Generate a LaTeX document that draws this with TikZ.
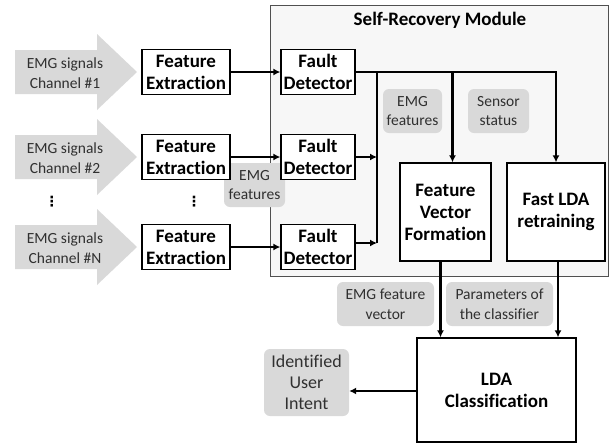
\documentclass[tikz,border=0pt]{standalone}
\usepackage{fontspec}
\setmainfont[Ligatures=NoCommon]{Carlito}
\newfontfamily\dotfont{DejaVu Sans}
\usetikzlibrary{arrows.meta}
\definecolor{tagfill}{HTML}{D9D9D9}
\definecolor{tagtext}{HTML}{303030}
\definecolor{modfill}{HTML}{F7F7F7}
\definecolor{modline}{HTML}{505050}
\newcommand{\bigtxt}{\fontsize{19}{22}\selectfont\bfseries}
\newcommand{\smalltxt}{\fontsize{15.5}{19.5}\selectfont}
\tikzset{
  blk/.style={draw, line width=1.3pt, fill=white, align=center, font=\bigtxt, inner sep=1pt},
  tag/.style={fill=tagfill, rounded corners=6pt, align=center, font=\smalltxt, text=tagtext, inner sep=0pt},
  wire/.style={line width=2.4pt},
  conn/.style={wire, -{Latex[length=7pt,width=7pt]}},
  vdot/.style={font=\dotfont\bfseries\fontsize{14}{14}\selectfont, inner sep=0pt},
}

\begin{document}
\begin{tikzpicture}[x=1pt,y=-1pt]
	\useasboundingbox (0,0) rectangle (611,445);
	% self-recovery module
	\node[draw=modline, fill=modfill, line width=0.9pt, minimum width=338, minimum height=271, inner sep=0pt] (srm) at (439,140.5) {};
	\node[font=\bigtxt] (srmtitle) at (440,20) {Self-Recovery Module};
	\node[tag, minimum width=61, minimum height=44] (tagfe) at (254.5,185) {EMG\\features};
	% channels
	\foreach \yy/\ch in {72/1,157/2,247/N}{
		\fill[tagfill] (15,{\yy-22}) -- (97,{\yy-22}) -- (97,{\yy-38}) -- (137,\yy) -- (97,{\yy+38}) -- (97,{\yy+22}) -- (15,{\yy+22}) -- cycle;
		\node[font=\smalltxt, text=tagtext, align=center] (sig\ch) at (65,{\yy+1}) {EMG signals\\Channel \#\ch};
		\node[blk, minimum width=88, minimum height=45] (fe\ch) at (186,\yy) {Feature\\Extraction};
		\node[blk, minimum width=74, minimum height=45] (fd\ch) at (318,\yy) {Fault\\Detector};
		\draw[conn] (fe\ch) -- (fd\ch);
	}
	\node[vdot] (vd1) at (52,202) {⋮};
	\node[vdot] (vd2) at (194,202) {⋮};
	% processing blocks
	\node[blk, minimum width=91, minimum height=98] (fvf) at (445.5,212) {Feature\\Vector\\Formation};
	\node[blk, minimum width=98, minimum height=98] (flda) at (556,212) {Fast LDA\\retraining};
	\node[blk, minimum width=159, minimum height=104] (lda) at (496.5,390) {LDA\\Classification};
	\node[tag, minimum width=59, minimum height=44] (tagfeat) at (412.5,111) {EMG\\features};
	\node[tag, minimum width=61, minimum height=44] (tagstat) at (498.5,111) {Sensor\\status};
	\node[tag, minimum width=97, minimum height=44] (tagvec) at (385.5,304) {EMG feature\\vector};
	\node[tag, minimum width=107, minimum height=44] (tagpar) at (499.5,304) {Parameters of\\the classifier};
	\node[tag, minimum width=85, minimum height=67, font=\fontsize{18}{21}\selectfont] (intent) at (306.5,382.5) {Identified\\User\\Intent};
	% connections
	\coordinate (bus) at (377,0);
	\draw[conn] (fd1.east) -| (flda.north);
	\draw[conn] ([xshift=7pt]fvf.north |- fd1.east) -- ([xshift=7pt]fvf.north);
	\draw[wire] (bus |- fd1.east) -- ([yshift=4pt]fdN.east -| bus);
	\draw[conn] (fd2.east) -- (fd2.east -| bus);
	\draw[conn] ([yshift=4pt]fdN.east) -- ([yshift=4pt]fdN.east -| bus);
	\draw[conn] ([xshift=-5pt]fvf.south) -- ([xshift=-5pt]fvf.south |- lda.north);
	\draw[conn] ([xshift=2pt]flda.south) -- ([xshift=2pt]flda.south |- lda.north);
	\draw[conn] ([yshift=-1pt]lda.west) -- ([yshift=-1pt]lda.west -| intent.east);
\end{tikzpicture}
\end{document}
